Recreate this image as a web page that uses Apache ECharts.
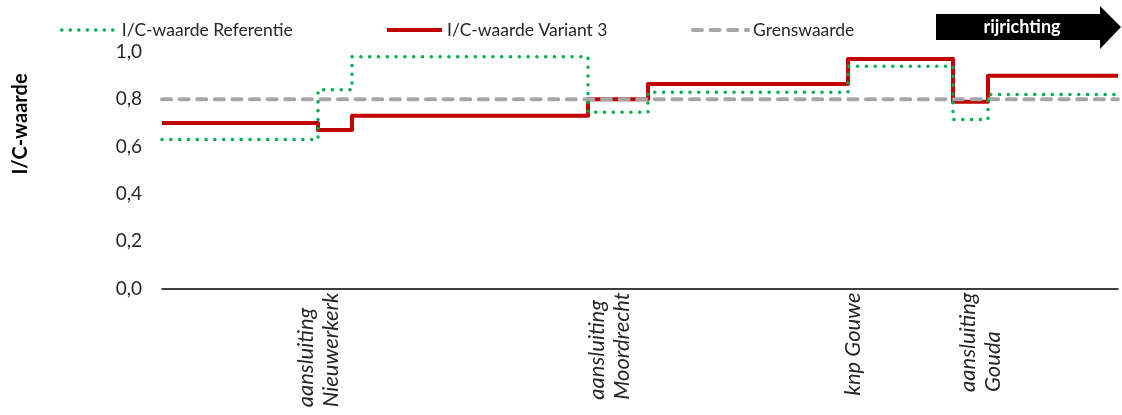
<!DOCTYPE html>
<html>
<head>
<meta charset="utf-8">
<title>I/C-waarde</title>
<script src="https://cdn.jsdelivr.net/npm/echarts@6.0.0/dist/echarts.min.js"></script>
<style>
  html, body { margin: 0; padding: 0; background: #fff; }
  #chart { width: 1122px; height: 415px; }
</style>
</head>
<body>
<div id="chart"></div>
<script>
// afstand langs het traject (begin van elk vak), laatste waarde = einde traject
const afstand = [0, 156, 190, 426, 486, 686, 791, 826, 956];
const referentie = [0.63, 0.84, 0.98, 0.745, 0.83, 0.94, 0.715, 0.82, 0.82];
const variant3 = [0.70, 0.67, 0.73, 0.80, 0.865, 0.97, 0.79, 0.90, 0.90];
const grenswaarde = [0.8, 0.8, 0.8, 0.8, 0.8, 0.8, 0.8, 0.8, 0.8];

const locaties = ['aansluiting\nNieuwerkerk', 'aansluiting\nMoordrecht', 'knp Gouwe', 'aansluiting\nGouda'];
const locatiePositie = [156, 447, 691, 818];

const font = 'Lato, "Open Sans", sans-serif';
const textColor = '#262626';

const toPoints = (values) => afstand.map((x, i) => [x, values[i]]);

const legendItem = (name, left, lineStyle) => ({
  left: left,
  top: 16,
  itemWidth: 55,
  itemHeight: 14,
  itemGap: 8,
  itemStyle: { opacity: 0 },
  lineStyle: lineStyle,
  textStyle: { fontFamily: font, fontSize: 17.5, color: textColor },
  data: [name]
});

const chart = echarts.init(document.getElementById('chart'));

const option = {
  animation: false,
  backgroundColor: '#fff',
  textStyle: { fontFamily: font },
  grid: { left: 162, right: 4, top: 52, bottom: 126.5, containLabel: false },
  legend: [
    legendItem('I/C-waarde Referentie', 55, { width: 3.5, type: [0.1, 8.4], cap: 'round' }),
    legendItem('I/C-waarde Variant 3', 380, { width: 4 }),
    legendItem('Grenswaarde', 686, { width: 4, type: [9, 8.6], cap: 'round' })
  ],
  xAxis: {
    type: 'value',
    min: 0,
    max: afstand[afstand.length - 1],
    axisLine: { show: true, onZero: false, lineStyle: { color: '#000', width: 1.5 } },
    axisTick: { show: false },
    splitLine: { show: false },
    axisLabel: {
      customValues: locatiePositie,
      rotate: 90,
      margin: 4,
      formatter: function (value) {
        const idx = locatiePositie.indexOf(value);
        if (idx < 0) return '';
        return locaties[idx].split('\n').map(l => '{a|' + l + '}').join('\n');
      },
      rich: {
        a: {
          align: 'left',
          fontFamily: font,
          fontStyle: 'italic',
          fontSize: 22,
          lineHeight: 25,
          color: textColor
        }
      }
    }
  },
  yAxis: {
    type: 'value',
    min: 0,
    max: 1,
    interval: 0.2,
    axisLine: { show: false },
    axisTick: { show: false },
    splitLine: { show: false },
    axisLabel: {
      margin: 20,
      fontFamily: font,
      fontSize: 19,
      color: textColor,
      formatter: v => v.toFixed(1).replace('.', ',')
    }
  },
  graphic: [
    {
      type: 'text',
      x: 21,
      y: 124,
      rotation: Math.PI / 2,
      style: {
        text: 'I/C-waarde',
        fontFamily: font,
        fontSize: 20,
        fontWeight: 'bold',
        fill: '#000',
        align: 'center',
        verticalAlign: 'middle'
      }
    },
    {
      type: 'polygon',
      shape: {
        points: [[936, 14], [1100, 14], [1100, 6], [1121, 27], [1100, 49], [1100, 40], [936, 40]]
      },
      style: { fill: '#000' }
    },
    {
      type: 'text',
      x: 1022,
      y: 27,
      style: {
        text: 'rijrichting',
        fontFamily: font,
        fontSize: 18,
        fontWeight: 'bold',
        fill: '#fff',
        align: 'center',
        verticalAlign: 'middle'
      }
    }
  ],
  series: [
    {
      name: 'I/C-waarde Referentie',
      type: 'line',
      step: 'end',
      symbol: 'none',
      z: 4,
      data: toPoints(referentie),
      itemStyle: { color: '#00B050' },
      lineStyle: { color: '#00B050', width: 3.5, type: [0.1, 8.7], cap: 'round', join: 'round' }
    },
    {
      name: 'I/C-waarde Variant 3',
      type: 'line',
      step: 'end',
      symbol: 'none',
      z: 2,
      data: toPoints(variant3),
      itemStyle: { color: '#C00000' },
      lineStyle: { color: '#C00000', width: 4, join: 'round' }
    },
    {
      name: 'Grenswaarde',
      type: 'line',
      symbol: 'none',
      z: 3,
      data: toPoints(grenswaarde),
      itemStyle: { color: '#A6A6A6' },
      lineStyle: { color: '#A6A6A6', width: 4, type: [9, 8.6], cap: 'round' }
    }
  ]
};

chart.setOption(option);
</script>
</body>
</html>
